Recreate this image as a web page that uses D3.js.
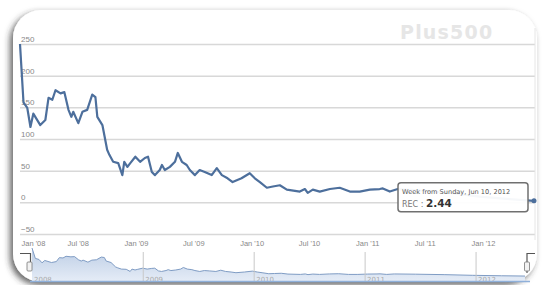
<!DOCTYPE html>
<html>
<head>
<meta charset="utf-8">
<script src="https://cdn.jsdelivr.net/npm/d3@7"></script>
<style>
  html, body { margin: 0; padding: 0; background: #fff; }
  svg { display: block; font-family: "DejaVu Sans", sans-serif; }
</style>
</head>
<body>
<svg width="542" height="285"></svg>
<script>
// weekly REC price
const dates = [
  "2008-01-01","2008-01-12","2008-01-24","2008-02-03","2008-02-12","2008-03-05","2008-03-21",
  "2008-03-31","2008-04-12","2008-04-22","2008-05-08","2008-05-20","2008-06-02","2008-06-11",
  "2008-06-17","2008-07-03","2008-07-16","2008-07-31","2008-08-16","2008-08-26","2008-09-01",
  "2008-09-17","2008-10-02","2008-10-09","2008-10-21","2008-11-06","2008-11-19","2008-11-25",
  "2008-12-05","2008-12-14","2008-12-30","2009-01-14","2009-01-29","2009-02-08","2009-02-20",
  "2009-03-02","2009-03-17","2009-03-24","2009-04-02","2009-04-18","2009-05-04","2009-05-13",
  "2009-05-26","2009-06-10","2009-06-20","2009-07-06","2009-07-21","2009-08-06","2009-08-28",
  "2009-09-13","2009-09-29","2009-10-17","2009-11-02","2009-11-30","2009-12-26","2010-01-11",
  "2010-01-27","2010-02-18","2010-03-09","2010-03-31","2010-04-22","2010-06-02","2010-06-18",
  "2010-06-27","2010-07-13","2010-08-04","2010-09-05","2010-10-06","2010-11-07","2010-12-08",
  "2011-01-09","2011-02-09","2011-02-19","2011-03-13","2011-04-07","2011-06-15","2011-09-18",
  "2011-12-21","2012-03-25","2012-06-10"
];
const values = [
  250,158,149,119,140,122,130,
  165,162,177,172,174,146,135,
  143,125,143,146,170,166,135,
  122,83,75,64,62,43,64,
  56,62,72,64,70,72,48,
  43,51,59,51,56,64,78,
  64,59,51,43,51,48,43,
  54,43,38,32,38,46,38,
  32,23,25,27,20,17,21,
  15,20,17,21,23,17,17,
  20,21,22,17,21,19,15,
  9,5,2.44
];
const yTicks = [-50, 0, 50, 100, 150, 200, 250];
const xTickDates = ["2008-01-01","2008-07-01","2009-01-01","2009-07-01","2010-01-01",
                    "2010-07-01","2011-01-01","2011-07-01","2012-01-01"];
const xTickLabels = ["Jan '08","Jul '08","Jan '09","Jul '09","Jan '10","Jul '10","Jan '11","Jul '11","Jan '12"];
const navYears = ["2008","2009","2010","2011","2012"];
const seriesName = "REC";
const tooltipTitle = "Week from Sunday, Jun 10, 2012";

const parse = d3.timeParse("%Y-%m-%d");
const data = dates.map((d, i) => ({date: parse(d), value: values[i]}));

const svg = d3.select("svg");

// card frame with shadow
const defs = svg.append("defs");
const f = defs.append("filter").attr("id", "sh").attr("x", "-10%").attr("y", "-10%").attr("width", "120%").attr("height", "125%");
f.append("feDropShadow").attr("dx", -3).attr("dy", 3).attr("stdDeviation", 3)
  .attr("flood-color", "#333").attr("flood-opacity", 0.75);
svg.append("rect")
  .attr("x", 13).attr("y", 10).attr("width", 524).attr("height", 272)
  .attr("rx", 28).attr("ry", 28)
  .attr("fill", "#fff").attr("filter", "url(#sh)");

const navGrad = defs.append("linearGradient").attr("id", "nav").attr("x1", 0).attr("y1", 0).attr("x2", 0).attr("y2", 1);
navGrad.append("stop").attr("offset", "0%").attr("stop-color", "#bccde5");
navGrad.append("stop").attr("offset", "100%").attr("stop-color", "#e6edf7");

const plotL = 20, plotR = 535, plotT = 44, plotB = 234;

const x = d3.scaleTime()
  .domain([parse("2008-01-01"), parse("2012-06-10")])
  .range([plotL, plotR - 1]);
const y = d3.scaleLinear().domain([-50, 250]).range([plotB, plotT]);

// watermark
svg.append("text")
  .attr("x", 400).attr("y", 39)
  .attr("font-size", 19).attr("font-weight", "bold")
  .attr("letter-spacing", 1.2)
  .attr("fill", "#e6e6e6")
  .text("Plus500");

// gridlines + y labels
const yAxis = svg.append("g")
  .attr("transform", `translate(${plotL},0)`)
  .attr("color", "#888")
  .call(d3.axisLeft(y).tickValues(yTicks).tickSize(-(plotR - plotL)).tickFormat(d3.format("d")));
yAxis.select(".domain").remove();
yAxis.selectAll("line").attr("stroke", "#d8d8d8").attr("stroke-width", 1.5);
yAxis.selectAll("text")
  .attr("x", 1).attr("dy", -2.5)
  .attr("text-anchor", "start")
  .attr("font-size", 8).attr("fill", "#888");

// right border of plot
svg.append("line")
  .attr("x1", plotR).attr("x2", plotR).attr("y1", 28).attr("y2", 240)
  .attr("stroke", "#e6e6e6").attr("stroke-width", 1);

// x axis labels
const xAxis = svg.append("g")
  .attr("transform", `translate(0,${plotB})`)
  .attr("color", "#888")
  .call(d3.axisBottom(x).tickValues(xTickDates.map(parse)).tickSize(0)
    .tickFormat((d, i) => xTickLabels[i]));
xAxis.select(".domain").remove();
xAxis.selectAll("text")
  .attr("dy", 9).attr("font-size", 7.5).attr("fill", "#888");
xAxis.select(".tick text").attr("text-anchor", "start").attr("x", 1);

// main line
const line = d3.line().x(d => x(d.date)).y(d => y(d.value));
svg.append("path")
  .datum(data)
  .attr("d", line)
  .attr("fill", "none")
  .attr("stroke", "#4d6f9c")
  .attr("stroke-width", 2.2)
  .attr("stroke-linejoin", "round");

// navigator
const nx = d3.scaleTime().domain(x.domain()).range([32, 525]);
const ny = d3.scaleLinear().domain([-50, 250]).range([282, 248]);
const area = d3.area().x(d => nx(d.date)).y0(282).y1(d => ny(d.value));
const nav = svg.append("g");
nav.append("path").datum(data).attr("d", area).attr("fill", "url(#nav)");
nav.append("path").datum(data)
  .attr("d", d3.line().x(d => nx(d.date)).y(d => ny(d.value)))
  .attr("fill", "none").attr("stroke", "#7f9cc4").attr("stroke-width", 1);
navYears.slice(1).forEach(yr => {
  const px = nx(parse(yr + "-01-01"));
  nav.append("line").attr("x1", px).attr("x2", px).attr("y1", 252).attr("y2", 282)
    .attr("stroke", "#c8c8c8").attr("stroke-width", 1);
});
navYears.forEach(yr => {
  const px = Math.max(nx(parse(yr + "-01-01")), 32);
  nav.append("text").attr("x", px + 2).attr("y", 282)
    .attr("font-size", 7).attr("fill", "#aaa").text(yr);
});
nav.append("line").attr("x1", 30).attr("x2", 530).attr("y1", 281.5).attr("y2", 281.5)
  .attr("stroke", "#8fb0da").attr("stroke-width", 1.5);
// handles
nav.append("path").attr("d", "M20,253.5H30.5V262").attr("fill", "none").attr("stroke", "#555").attr("stroke-width", 1.2);
nav.append("rect").attr("x", 27).attr("y", 262).attr("width", 5).attr("height", 9).attr("rx", 1)
  .attr("fill", "#f2f2f2").attr("stroke", "#777").attr("stroke-width", 0.8);
nav.append("path").attr("d", "M535,253.5H527V273").attr("fill", "none").attr("stroke", "#555").attr("stroke-width", 1.2);
nav.append("rect").attr("x", 524.5).attr("y", 262).attr("width", 5).attr("height", 9).attr("rx", 1)
  .attr("fill", "#f2f2f2").attr("stroke", "#777").attr("stroke-width", 0.8);

// hover marker and tooltip on last point
const last = data[data.length - 1];
const lx = x(last.date), ly = y(last.value);
svg.append("circle").attr("cx", lx).attr("cy", ly).attr("r", 2.5).attr("fill", "#4d6f9c");
const tw = 130, th = 29;
const tx = lx - 6 - tw, ty = ly - 18;
const tip = svg.append("g").attr("transform", `translate(${tx},${ty})`);
tip.append("rect").attr("width", tw).attr("height", th).attr("rx", 3)
  .attr("fill", "#fff").attr("fill-opacity", 0.95)
  .attr("stroke", "#707070").attr("stroke-width", 1.5);
tip.append("text").attr("x", 4).attr("y", 11)
  .attr("font-size", 6.6).attr("fill", "#555").text(tooltipTitle);
const t2 = tip.append("text").attr("x", 4).attr("y", 24);
t2.append("tspan").attr("font-size", 8).attr("fill", "#777").text(seriesName + " : ");
t2.append("tspan").attr("font-size", 10.5).attr("font-weight", "bold").attr("fill", "#333")
  .text(d3.format(".2f")(last.value));
</script>
</body>
</html>
